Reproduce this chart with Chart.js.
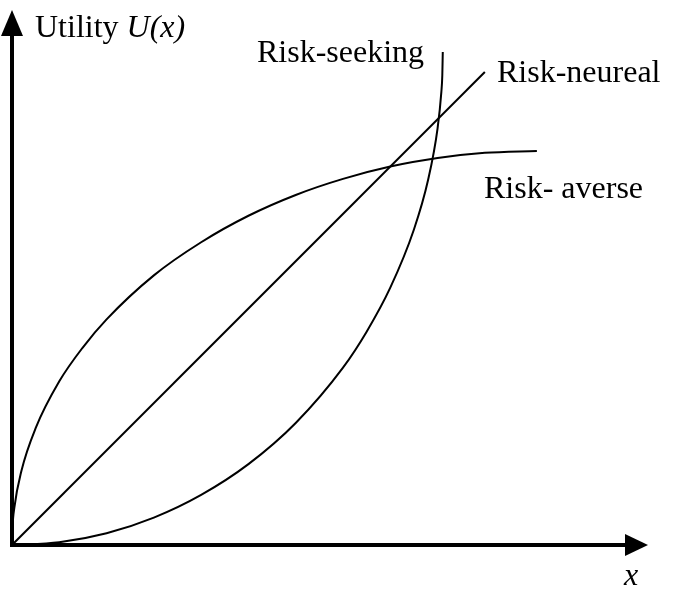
<!DOCTYPE html>
<html>
<head>
<meta charset="utf-8">
<script src="https://cdn.jsdelivr.net/npm/chart.js@4/dist/chart.umd.min.js"></script>
<style>
  html, body { margin: 0; padding: 0; background: #fff; }
  #wrap { width: 680px; height: 611px; position: relative; }
</style>
</head>
<body>
<div id="wrap"><canvas id="utilityChart"></canvas></div>
<script>
// values (x = wealth, y = utility, arbitrary units)
const averseX = [0, 0.01, 0.05, 0.2, 0.5, 1, 1.5, 2, 3, 4, 5, 6, 7, 8, 9, 10, 11.1]
const averseY = [0, 0.35, 0.79, 1.57, 2.47, 3.46, 4.18, 4.77, 5.70, 6.40, 6.96, 7.40, 7.74, 8.00, 8.18, 8.29, 8.33]

const neutralX = [0, 10]
const neutralY = [0, 10]

const seekingX = [0, 1, 2, 3, 4, 5, 6, 7, 7.5, 8, 8.5, 8.8, 9.0, 9.08, 9.1, 9.11]
const seekingY = [0, 0.06, 0.25, 0.58, 1.06, 1.71, 2.58, 3.75, 4.51, 5.44, 6.67, 7.72, 8.81, 9.58, 9.93, 10.42]

const xMax = 13.45
const yMax = 11.31

function toPoints(xs, ys) {
  return xs.map((x, i) => ({ x: x, y: ys[i] }))
}

// arrows, axis lines and the hand placed labels
const decorations = {
  id: 'decorations',
  afterDatasetsDraw(chart) {
    const ctx = chart.ctx
    const { x, y } = chart.scales
    const ox = x.getPixelForValue(0)
    const oy = y.getPixelForValue(0)
    const top = chart.chartArea.top
    const right = chart.chartArea.right

    ctx.save()
    ctx.strokeStyle = '#000'
    ctx.fillStyle = '#000'
    ctx.lineWidth = 4

    // y axis
    ctx.beginPath()
    ctx.moveTo(ox, oy + 2)
    ctx.lineTo(ox, top + 20)
    ctx.stroke()
    ctx.beginPath()
    ctx.moveTo(ox, top)
    ctx.lineTo(ox - 11, top + 26)
    ctx.lineTo(ox + 11, top + 26)
    ctx.closePath()
    ctx.fill()

    // x axis
    ctx.beginPath()
    ctx.moveTo(ox - 2, oy)
    ctx.lineTo(right - 18, oy)
    ctx.stroke()
    ctx.beginPath()
    ctx.moveTo(right, oy)
    ctx.lineTo(right - 23, oy - 11)
    ctx.lineTo(right - 23, oy + 11)
    ctx.closePath()
    ctx.fill()

    // texts
    const serif = '32px "Liberation Serif", "Times New Roman", serif'
    ctx.textBaseline = 'alphabetic'
    ctx.textAlign = 'left'
    ctx.font = serif
    ctx.fillText('Utility ', 35, 37)
    const w = ctx.measureText('Utility ').width
    ctx.font = 'italic ' + serif
    ctx.fillText('U(x)', 35 + w, 37)

    ctx.font = serif
    ctx.fillText('Risk-seeking', 257, 62)
    ctx.fillText('Risk-neureal', 497, 82)
    ctx.fillText('Risk- averse', 484, 198)

    ctx.font = 'italic ' + serif
    ctx.textAlign = 'center'
    ctx.fillText('x', 631, 585)
    ctx.restore()
  }
}

const lineStyle = {
  borderColor: '#000',
  borderWidth: 2,
  pointRadius: 0,
  fill: false,
  cubicInterpolationMode: 'monotone'
}

new Chart(document.getElementById('utilityChart'), {
  type: 'line',
  data: {
    datasets: [
      Object.assign({ label: 'Risk- averse', data: toPoints(averseX, averseY) }, lineStyle),
      Object.assign({ label: 'Risk-neureal', data: toPoints(neutralX, neutralY) }, lineStyle),
      Object.assign({ label: 'Risk-seeking', data: toPoints(seekingX, seekingY) }, lineStyle)
    ]
  },
  options: {
    responsive: true,
    maintainAspectRatio: false,
    animation: false,
    layout: { padding: { left: 12, right: 32, top: 10, bottom: 66 } },
    plugins: {
      legend: { display: false },
      tooltip: { enabled: false }
    },
    scales: {
      x: { type: 'linear', min: 0, max: xMax, display: false },
      y: { type: 'linear', min: 0, max: yMax, display: false }
    }
  },
  plugins: [decorations]
})
</script>
</body>
</html>
